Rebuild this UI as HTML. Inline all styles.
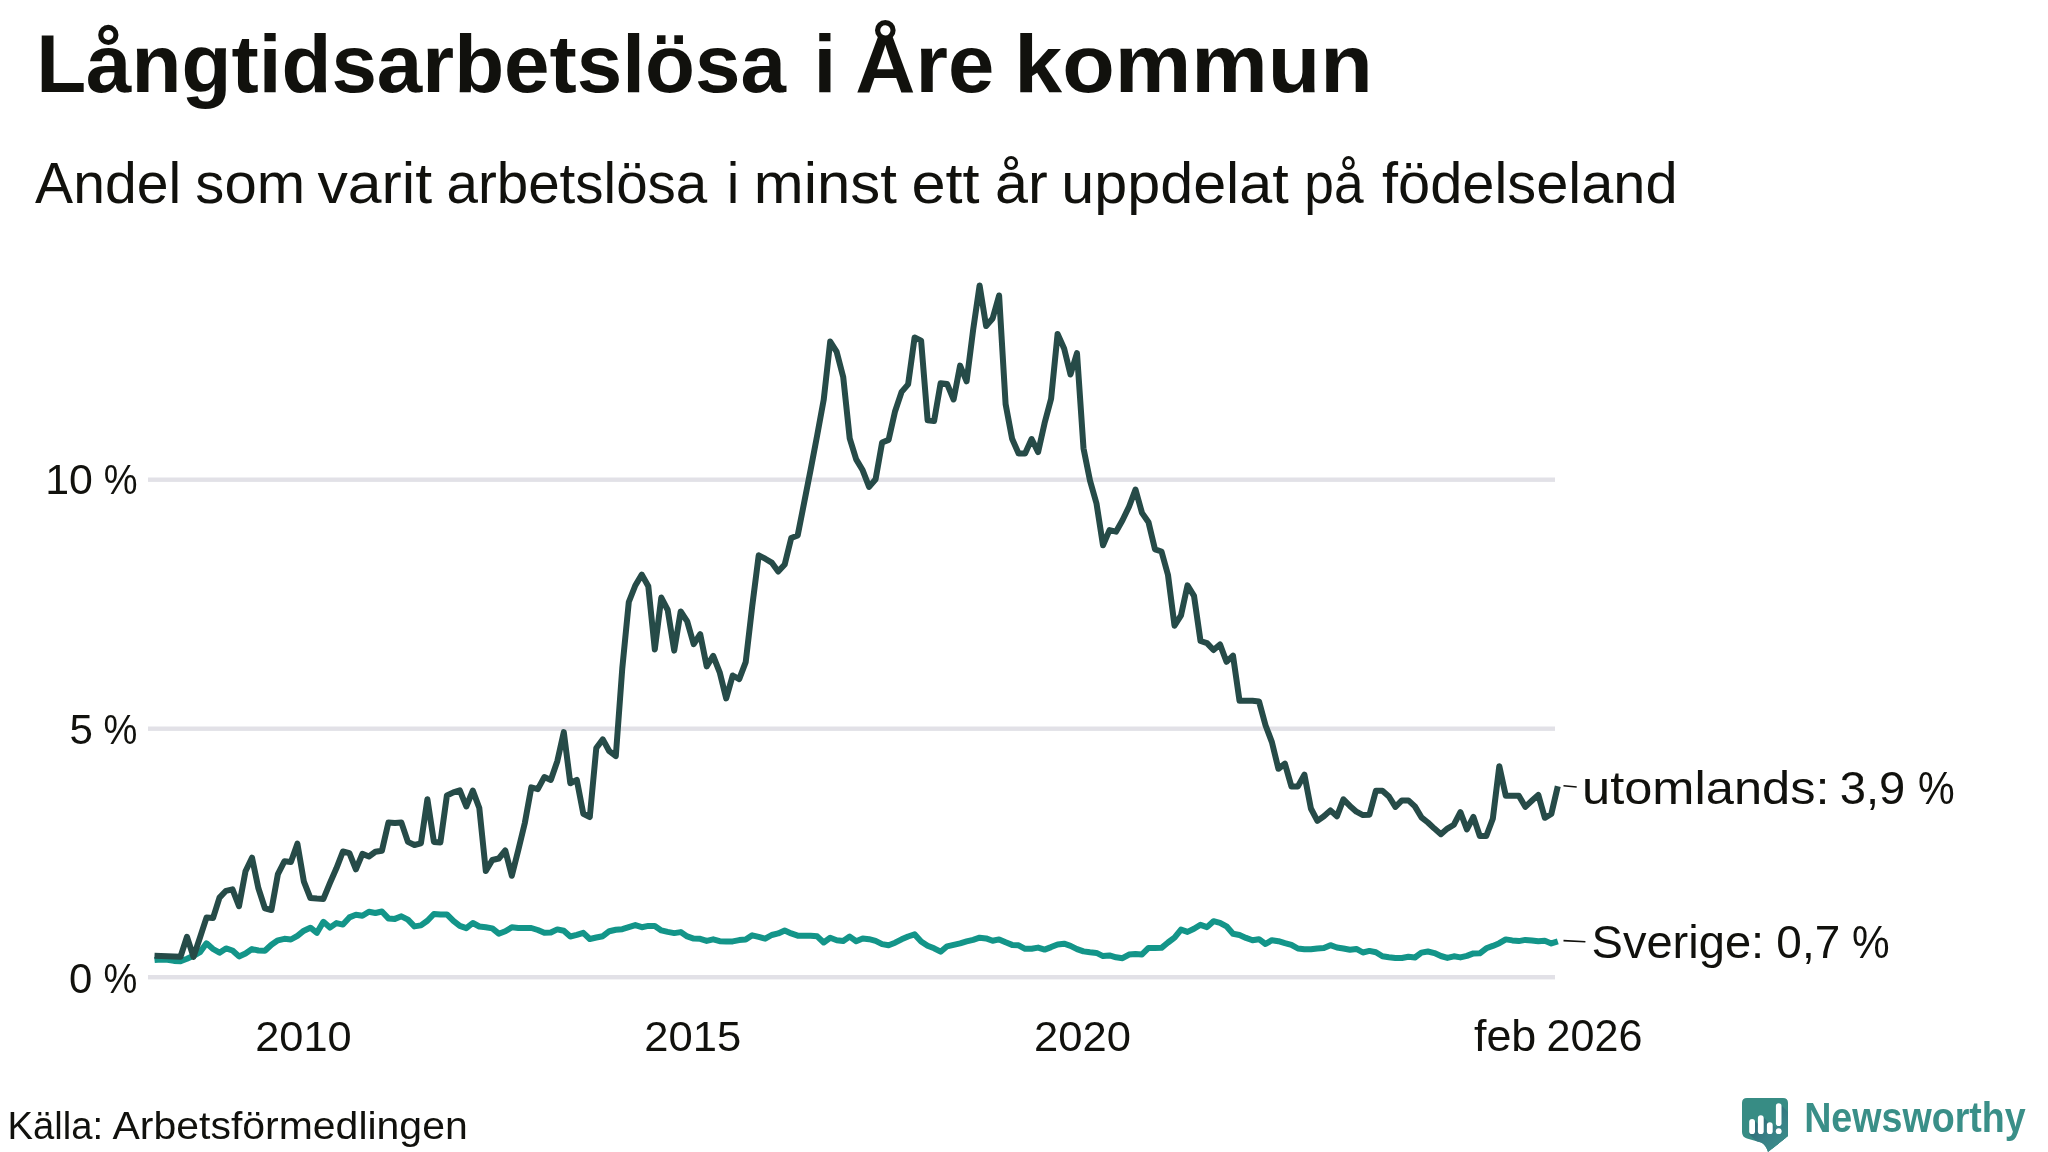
<!DOCTYPE html>
<html><head><meta charset="utf-8">
<style>
html,body{margin:0;padding:0;background:#fff;}
body{width:2048px;height:1152px;overflow:hidden;position:relative;}
svg{position:absolute;left:0;top:0;will-change:transform;}
text{font-family:"Liberation Sans",sans-serif;fill:#11110d;}
</style></head><body>
<svg width="2048" height="1152" viewBox="0 0 2048 1152">
<g fill="#e2e1e7">
<rect x="148" y="477.5" width="1407" height="4.4"/>
<rect x="148" y="726.5" width="1407" height="4.4"/>
<rect x="148" y="975" width="1407" height="4.4"/>
</g>
<text x="36.18" y="92.0" font-size="82.03" font-weight="bold" textLength="749.75" lengthAdjust="spacingAndGlyphs">Långtidsarbetslösa</text>
<text x="813.47" y="92.0" font-size="82.03" font-weight="bold" textLength="22.8" lengthAdjust="spacingAndGlyphs">i</text>
<text x="855.3" y="92.0" font-size="82.03" font-weight="bold" textLength="138.92" lengthAdjust="spacingAndGlyphs">Åre</text>
<text x="1014.38" y="92.0" font-size="82.03" font-weight="bold" textLength="358.39" lengthAdjust="spacingAndGlyphs">kommun</text>
<text x="35.1" y="203.0" font-size="56.67" textLength="146.06" lengthAdjust="spacingAndGlyphs">Andel</text>
<text x="195.36" y="203.0" font-size="56.67" textLength="109.76" lengthAdjust="spacingAndGlyphs">som</text>
<text x="317.49" y="203.0" font-size="56.67" textLength="114.67" lengthAdjust="spacingAndGlyphs">varit</text>
<text x="446.44" y="203.0" font-size="56.67" textLength="260.88" lengthAdjust="spacingAndGlyphs">arbetslösa</text>
<text x="726.72" y="203.0" font-size="56.67" textLength="12.59" lengthAdjust="spacingAndGlyphs">i</text>
<text x="753.81" y="203.0" font-size="56.67" textLength="143.04" lengthAdjust="spacingAndGlyphs">minst</text>
<text x="911.45" y="203.0" font-size="56.67" textLength="68.17" lengthAdjust="spacingAndGlyphs">ett</text>
<text x="995.03" y="203.0" font-size="56.67" textLength="52.71" lengthAdjust="spacingAndGlyphs">år</text>
<text x="1061.25" y="203.0" font-size="56.67" textLength="227.47" lengthAdjust="spacingAndGlyphs">uppdelat</text>
<text x="1304.27" y="203.0" font-size="56.67" textLength="59.25" lengthAdjust="spacingAndGlyphs">på</text>
<text x="1382.02" y="203.0" font-size="56.67" textLength="295.55" lengthAdjust="spacingAndGlyphs">födelseland</text>
<text x="45.17" y="494.47" font-size="42.68" textLength="47.64" lengthAdjust="spacingAndGlyphs">10</text>
<text x="103.68" y="494.47" font-size="42.68" textLength="33.81" lengthAdjust="spacingAndGlyphs">%</text>
<text x="69.41" y="743.57" font-size="43.14" textLength="23.43" lengthAdjust="spacingAndGlyphs">5</text>
<text x="103.38" y="743.57" font-size="43.14" textLength="33.81" lengthAdjust="spacingAndGlyphs">%</text>
<text x="69.12" y="992.77" font-size="42.82" textLength="23.29" lengthAdjust="spacingAndGlyphs">0</text>
<text x="103.38" y="992.77" font-size="42.82" textLength="33.81" lengthAdjust="spacingAndGlyphs">%</text>
<text x="255.23" y="1050.87" font-size="43.24" textLength="96.4" lengthAdjust="spacingAndGlyphs">2010</text>
<text x="644.32" y="1050.87" font-size="43.24" textLength="96.82" lengthAdjust="spacingAndGlyphs">2015</text>
<text x="1034.12" y="1050.87" font-size="43.24" textLength="96.82" lengthAdjust="spacingAndGlyphs">2020</text>
<text x="1473.95" y="1051.04" font-size="43.89" textLength="62.35" lengthAdjust="spacingAndGlyphs">feb</text>
<text x="1546.55" y="1051.04" font-size="43.89" textLength="95.88" lengthAdjust="spacingAndGlyphs">2026</text>
<text x="1582.06" y="804.36" font-size="46.5" textLength="247.48" lengthAdjust="spacingAndGlyphs">utomlands:</text>
<text x="1839.71" y="804.36" font-size="46.5" textLength="65.55" lengthAdjust="spacingAndGlyphs">3,9</text>
<text x="1917.95" y="804.36" font-size="46.5" textLength="36.67" lengthAdjust="spacingAndGlyphs">%</text>
<text x="1591.55" y="957.83" font-size="46.5" textLength="172.62" lengthAdjust="spacingAndGlyphs">Sverige:</text>
<text x="1776.36" y="957.83" font-size="46.5" textLength="63.84" lengthAdjust="spacingAndGlyphs">0,7</text>
<text x="1852.01" y="957.83" font-size="46.5" textLength="37.65" lengthAdjust="spacingAndGlyphs">%</text>
<text x="7.44" y="1138.5" font-size="38.99" textLength="95.66" lengthAdjust="spacingAndGlyphs">Källa:</text>
<text x="112.5" y="1138.5" font-size="38.99" textLength="355.22" lengthAdjust="spacingAndGlyphs">Arbetsförmedlingen</text>
<text x="1804.17" y="1131.9" font-size="41.74" font-weight="bold" style="fill:#3a8f88" textLength="221.62" lengthAdjust="spacingAndGlyphs">Newsworthy</text>
<path d="M154.5,960.1 L161.0,959.4 L167.5,959.8 L174.0,960.9 L180.5,961.2 L187.0,958.7 L193.5,955.8 L200.0,952.1 L206.5,943.3 L213.0,949.0 L219.5,952.7 L226.0,948.4 L232.5,950.5 L239.0,956.4 L245.5,953.5 L252.0,949.1 L258.4,950.5 L264.9,950.8 L271.4,944.7 L277.9,940.3 L284.4,938.8 L290.9,939.5 L297.4,935.8 L303.9,930.7 L310.4,927.7 L316.9,932.8 L323.4,921.8 L329.9,927.6 L336.4,923.1 L342.9,924.6 L349.4,917.4 L355.9,914.8 L362.4,915.8 L368.9,911.8 L375.4,913.0 L381.9,911.5 L388.4,918.4 L394.9,918.9 L401.4,916.3 L407.9,919.6 L414.4,926.4 L420.9,925.4 L427.4,920.8 L433.9,914.0 L440.4,914.6 L446.9,914.4 L453.4,920.9 L459.8,925.9 L466.3,928.2 L472.8,923.0 L479.3,926.5 L485.8,927.3 L492.3,928.4 L498.8,933.7 L505.3,931.3 L511.8,927.3 L518.3,927.9 L524.8,927.9 L531.3,928.0 L537.8,930.0 L544.3,932.7 L550.8,932.5 L557.3,929.4 L563.8,930.8 L570.3,936.5 L576.8,934.9 L583.3,932.8 L589.8,939.0 L596.3,937.5 L602.8,936.2 L609.3,931.2 L615.8,929.8 L622.3,929.2 L628.8,927.2 L635.3,925.1 L641.8,927.2 L648.3,925.9 L654.8,926.1 L661.3,930.4 L667.7,931.9 L674.2,933.1 L680.7,932.1 L687.2,936.4 L693.7,938.6 L700.2,938.8 L706.7,940.9 L713.2,939.3 L719.7,941.2 L726.2,941.5 L732.7,941.4 L739.2,940.1 L745.7,939.6 L752.2,935.3 L758.7,936.9 L765.2,938.7 L771.7,935.0 L778.2,933.4 L784.7,930.5 L791.2,933.4 L797.7,935.7 L804.2,935.7 L810.7,935.7 L817.2,936.3 L823.7,942.5 L830.2,937.8 L836.7,940.2 L843.2,941.0 L849.7,936.6 L856.2,941.3 L862.7,938.6 L869.1,939.2 L875.6,940.9 L882.1,944.1 L888.6,945.2 L895.1,942.7 L901.6,939.3 L908.1,936.5 L914.6,934.4 L921.1,941.5 L927.6,945.7 L934.1,948.3 L940.6,951.7 L947.1,946.3 L953.6,944.8 L960.1,943.3 L966.6,941.4 L973.1,939.8 L979.6,937.7 L986.1,938.4 L992.6,940.8 L999.1,939.4 L1005.6,942.3 L1012.1,944.9 L1018.6,945.3 L1025.1,948.8 L1031.6,948.7 L1038.1,947.6 L1044.6,949.6 L1051.1,947.1 L1057.6,944.4 L1064.1,943.7 L1070.5,945.8 L1077.0,949.1 L1083.5,951.4 L1090.0,952.3 L1096.5,952.9 L1103.0,956.1 L1109.5,955.4 L1116.0,957.3 L1122.5,958.2 L1129.0,954.6 L1135.5,953.9 L1142.0,954.4 L1148.5,947.9 L1155.0,947.9 L1161.5,947.8 L1168.0,942.5 L1174.5,937.6 L1181.0,929.6 L1187.5,931.9 L1194.0,928.8 L1200.5,924.8 L1207.0,927.1 L1213.5,921.2 L1220.0,922.8 L1226.5,926.3 L1233.0,933.8 L1239.5,935.0 L1246.0,937.9 L1252.5,940.3 L1259.0,939.2 L1265.5,944.0 L1271.9,940.2 L1278.4,941.2 L1284.9,943.2 L1291.4,944.9 L1297.9,948.5 L1304.4,949.3 L1310.9,949.2 L1317.4,948.4 L1323.9,948.0 L1330.4,945.2 L1336.9,947.5 L1343.4,948.5 L1349.9,949.7 L1356.4,948.9 L1362.9,952.5 L1369.4,950.9 L1375.9,952.3 L1382.4,956.3 L1388.9,957.3 L1395.4,958.1 L1401.9,958.0 L1408.4,956.8 L1414.9,957.5 L1421.4,952.6 L1427.9,951.5 L1434.4,953.1 L1440.9,956.0 L1447.4,957.9 L1453.9,956.3 L1460.4,957.4 L1466.9,955.9 L1473.4,953.4 L1479.8,953.3 L1486.3,948.3 L1492.8,945.9 L1499.3,943.2 L1505.8,939.4 L1512.3,940.4 L1518.8,941.1 L1525.3,939.9 L1531.8,940.4 L1538.3,941.2 L1544.8,940.7 L1551.3,943.4 L1557.8,941.3" fill="none" stroke="#139589" stroke-width="6" stroke-linejoin="round" stroke-linecap="butt"/>
<path d="M154.5,955.7 L161.0,956.0 L167.5,956.3 L174.0,956.5 L180.5,956.7 L187.0,936.8 L193.5,956.9 L200.0,937.5 L206.5,917.6 L213.0,918.1 L219.5,897.6 L226.0,890.8 L232.5,889.3 L239.0,906.1 L245.5,871.2 L252.0,857.7 L258.4,888.3 L264.9,908.3 L271.4,910.0 L277.9,874.1 L284.4,861.3 L290.9,862.0 L297.4,843.7 L303.9,881.7 L310.4,898.1 L316.9,898.6 L323.4,898.9 L329.9,883.2 L336.4,868.3 L342.9,851.5 L349.4,853.2 L355.9,869.3 L362.4,853.9 L368.9,856.5 L375.4,851.8 L381.9,850.7 L388.4,822.6 L394.9,823.1 L401.4,822.6 L407.9,841.9 L414.4,845.0 L420.9,843.4 L427.4,799.2 L433.9,841.9 L440.4,842.4 L446.9,795.5 L453.4,792.4 L459.8,790.3 L466.3,806.5 L472.8,790.6 L479.3,808.0 L485.8,871.0 L492.3,860.0 L498.8,858.5 L505.3,850.5 L511.8,875.8 L518.3,849.9 L524.8,823.1 L531.3,787.4 L537.8,789.1 L544.3,777.1 L550.8,779.9 L557.3,761.2 L563.8,732.1 L570.3,783.2 L576.8,779.9 L583.3,813.7 L589.8,817.0 L596.3,748.0 L602.8,739.4 L609.3,751.2 L615.8,756.1 L622.3,668.1 L628.8,602.0 L635.3,585.5 L641.8,574.6 L648.3,586.3 L654.8,649.5 L661.3,597.6 L667.7,610.0 L674.2,650.6 L680.7,611.5 L687.2,621.4 L693.7,644.2 L700.2,634.2 L706.7,666.4 L713.2,655.8 L719.7,672.3 L726.2,698.4 L732.7,675.5 L739.2,679.1 L745.7,662.1 L752.2,606.3 L758.7,555.3 L765.2,558.7 L771.7,562.6 L778.2,571.5 L784.7,564.5 L791.2,538.1 L797.7,535.4 L804.2,502.4 L810.7,469.3 L817.2,435.2 L823.7,399.8 L830.2,341.5 L836.7,351.9 L843.2,376.9 L849.7,438.4 L856.2,459.4 L862.7,470.3 L869.1,486.9 L875.6,479.2 L882.1,442.5 L888.6,439.9 L895.1,411.2 L901.6,391.9 L908.1,384.4 L914.6,337.5 L921.1,340.6 L927.6,420.2 L934.1,420.9 L940.6,383.3 L947.1,383.9 L953.6,399.5 L960.1,365.6 L966.6,381.3 L973.1,330.2 L979.6,285.4 L986.1,326.0 L992.6,318.5 L999.1,295.5 L1005.6,404.1 L1012.1,438.8 L1018.6,453.5 L1025.1,453.5 L1031.6,439.0 L1038.1,452.1 L1044.6,423.1 L1051.1,398.7 L1057.6,333.9 L1064.1,348.4 L1070.5,374.5 L1077.0,353.1 L1083.5,448.3 L1090.0,480.6 L1096.5,503.5 L1103.0,545.2 L1109.5,530.1 L1116.0,531.7 L1122.5,520.2 L1129.0,506.7 L1135.5,489.5 L1142.0,512.9 L1148.5,522.3 L1155.0,549.4 L1161.5,551.5 L1168.0,575.0 L1174.5,625.7 L1181.0,615.3 L1187.5,585.4 L1194.0,595.8 L1200.5,641.0 L1207.0,643.1 L1213.5,650.0 L1220.0,644.4 L1226.5,661.8 L1233.0,655.6 L1239.5,700.7 L1246.0,700.7 L1252.5,700.7 L1259.0,701.4 L1265.5,725.2 L1271.9,742.1 L1278.4,768.8 L1284.9,763.6 L1291.4,786.4 L1297.9,786.4 L1304.4,774.6 L1310.9,808.5 L1317.4,820.9 L1323.9,816.3 L1330.4,810.4 L1336.9,816.3 L1343.4,799.4 L1349.9,805.9 L1356.4,811.7 L1362.9,815.1 L1369.4,814.7 L1375.9,790.8 L1382.4,790.8 L1388.9,796.5 L1395.4,806.9 L1401.9,800.4 L1408.4,800.4 L1414.9,806.4 L1421.4,817.3 L1427.9,822.5 L1434.4,828.6 L1440.9,834.2 L1447.4,828.6 L1453.9,824.7 L1460.4,812.1 L1466.9,829.4 L1473.4,816.9 L1479.8,836.0 L1486.3,836.0 L1492.8,818.8 L1499.3,766.2 L1505.8,795.8 L1512.3,795.8 L1518.8,795.8 L1525.3,806.8 L1531.8,800.8 L1538.3,794.9 L1544.8,817.8 L1551.3,814.0 L1557.8,786.3" fill="none" stroke="#264b48" stroke-width="6" stroke-linejoin="round" stroke-linecap="butt"/>
<g stroke="#11110d" stroke-width="1.6">
<line x1="1563.5" y1="785.8" x2="1576.7" y2="787"/>
<line x1="1563.5" y1="940.6" x2="1585.4" y2="941.7"/>
</g>
<g transform="translate(1742,1098)">
<defs>
<clipPath id="lc"><path d="M5,0 H41 Q46,0 46,5 V38 L26,54 Q23.5,46.5 19,44.6 L5,40.5 Q0,39 0,34 V5 Q0,0 5,0 Z"/></clipPath>
<linearGradient id="sg" x1="10" y1="20" x2="40" y2="50" gradientUnits="userSpaceOnUse"><stop offset="0" stop-color="#2c6672"/><stop offset="0.55" stop-color="#387f86"/><stop offset="1" stop-color="#3c8d8a"/></linearGradient>
</defs>
<path d="M5,0 H41 Q46,0 46,5 V38 L26,54 Q23.5,46.5 19,44.6 L5,40.5 Q0,39 0,34 V5 Q0,0 5,0 Z" fill="#378c84"/>
<g clip-path="url(#lc)" fill="url(#sg)">
<path d="M13,23 L73,83 L67,96 L7,36 Z"/>
<path d="M21.7,19.5 L81.7,79.5 L75.9,96 L15.9,36 Z"/>
<path d="M30.7,26.5 L90.7,86.5 L84.9,96 L24.9,36 Z"/>
<path d="M39.5,7.5 L99.5,67.5 L93.9,96 L33.9,36 Z"/>
</g>
<rect x="7.2" y="21" width="5.8" height="15.1" rx="2.9" fill="#fff"/>
<rect x="15.9" y="17.2" width="5.8" height="18.9" rx="2.9" fill="#fff"/>
<rect x="24.9" y="24.2" width="5.8" height="11.9" rx="2.9" fill="#fff"/>
<rect x="33.9" y="5.3" width="5.6" height="22.7" rx="2.8" fill="#fff"/>
<circle cx="36.7" cy="33.2" r="2.9" fill="#fff"/>
</g>
</svg>
</body></html>
